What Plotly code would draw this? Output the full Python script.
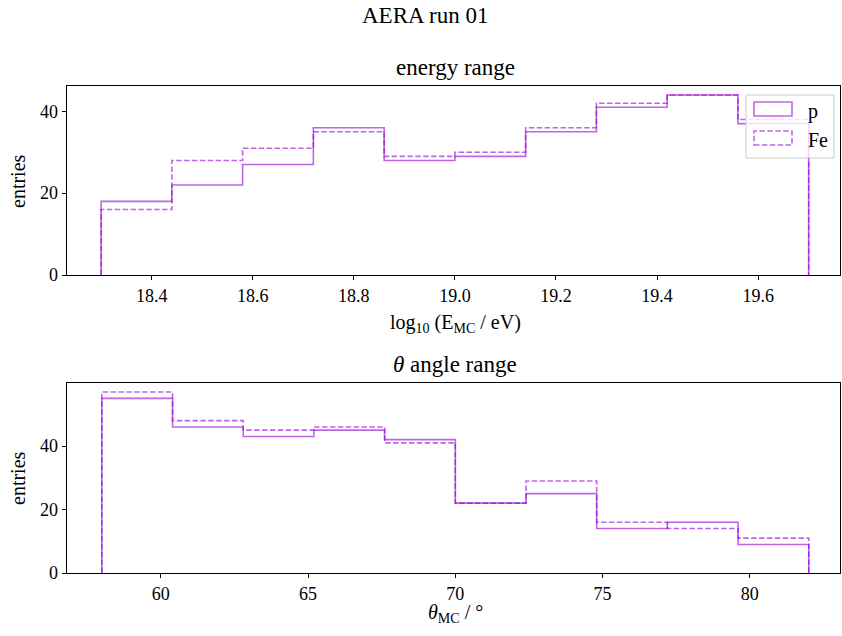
import plotly.graph_objects as go

energy_edges = [18.3, 18.44, 18.58, 18.72, 18.86, 19.0, 19.14, 19.28, 19.42, 19.56, 19.7]
energy_p = [18, 22, 27, 36, 28, 29, 35, 41, 44, 37]
energy_fe = [16, 28, 31, 35, 29, 30, 36, 42, 44, 38]

theta_edges = [58, 60.4, 62.8, 65.2, 67.6, 70, 72.4, 74.8, 77.2, 79.6, 82]
theta_p = [55, 46, 43, 45, 42, 22, 25, 14, 16, 9]
theta_fe = [57, 48, 45, 46, 41, 22, 29, 16, 14, 11]

energy_ticks = [18.4, 18.6, 18.8, 19.0, 19.2, 19.4, 19.6]
energy_ticktext = ["18.4", "18.6", "18.8", "19.0", "19.2", "19.4", "19.6"]
theta_ticks = [60, 65, 70, 75, 80]
y_ticks = [0, 20, 40]

COL = "rgba(148,0,211,0.6)"
FONT = "Liberation Serif"
W, H = 842, 636


def step(edges, counts):
    return [edges[0]] + list(edges), [0] + list(counts) + [0]


fig = go.Figure()
for xa, ya, edges, cp, cf in [("x", "y", energy_edges, energy_p, energy_fe),
                              ("x2", "y2", theta_edges, theta_p, theta_fe)]:
    x, y = step(edges, cp)
    fig.add_trace(go.Scatter(x=x, y=y, mode="lines", line=dict(color=COL, width=1.6, shape="hv"),
                             xaxis=xa, yaxis=ya, showlegend=False, hoverinfo="skip"))
    x, y = step(edges, cf)
    fig.add_trace(go.Scatter(x=x, y=y, mode="lines", line=dict(color=COL, width=1.6, shape="hv", dash="5.5px,2.4px"),
                             xaxis=xa, yaxis=ya, showlegend=False, hoverinfo="skip"))

px_x = lambda p: p / W
px_y = lambda p: 1 - p / H

axcommon = dict(showline=True, linecolor="black", linewidth=1, mirror=True, ticks="outside",
                ticklen=4, tickwidth=1, tickcolor="black", showgrid=False, zeroline=False,
                tickfont=dict(family=FONT, size=18, color="black"), automargin=False)

fig.update_layout(
    width=W, height=H, margin=dict(l=0, r=0, t=0, b=0),
    plot_bgcolor="white", paper_bgcolor="white",
    xaxis=dict(domain=[px_x(66.5), px_x(840)], range=[18.2315, 19.762], anchor="y",
               tickvals=energy_ticks, ticktext=energy_ticktext, **axcommon),
    yaxis=dict(domain=[px_y(275), px_y(86)], range=[0, 46.2], anchor="x", tickvals=y_ticks, **axcommon),
    xaxis2=dict(domain=[px_x(66.5), px_x(840)], range=[56.8, 83.06], anchor="y2",
                tickvals=theta_ticks, **axcommon),
    yaxis2=dict(domain=[px_y(573), px_y(383)], range=[0, 59.85], anchor="x2", tickvals=y_ticks, **axcommon),
)

ann = []
def text(t, x, y, size=18, angle=0):
    ann.append(dict(text=t, x=px_x(x), y=px_y(y), xref="paper", yref="paper", showarrow=False,
                    xanchor="center", yanchor="middle", textangle=angle,
                    font=dict(family=FONT, size=size, color="black")))

text("AERA run 01", 425, 15, 23)
text("energy range", 455, 67, 23)
text("<i>θ</i> angle range", 455, 364, 23)
text("log<sub>10</sub> (E<sub>MC</sub> / eV)", 455, 323, 20)
text("<i>θ</i><sub>MC</sub> / °", 455, 613, 20)
text("entries", 18, 181, 20, -90)
text("entries", 18, 478, 20, -90)

# legend
shapes = [
    dict(type="rect", xref="paper", yref="paper", x0=px_x(746), x1=px_x(834), y0=px_y(158), y1=px_y(95),
         fillcolor="rgba(255,255,255,0.8)", line=dict(color="rgba(204,204,204,1)", width=1)),
    dict(type="rect", xref="paper", yref="paper", x0=px_x(754), x1=px_x(792), y0=px_y(116), y1=px_y(102),
         fillcolor="rgba(0,0,0,0)", line=dict(color=COL, width=1.6)),
    dict(type="rect", xref="paper", yref="paper", x0=px_x(754), x1=px_x(792), y0=px_y(145), y1=px_y(131),
         fillcolor="rgba(0,0,0,0)", line=dict(color=COL, width=1.6, dash="5.5px,2.4px")),
]
for t, y in [("p", 111), ("Fe", 140)]:
    ann.append(dict(text=t, x=px_x(806), y=px_y(y), xref="paper", yref="paper", showarrow=False,
                    xanchor="left", yanchor="middle", font=dict(family=FONT, size=20, color="black")))

fig.update_layout(annotations=ann, shapes=shapes)
fig.write_html("out.html")
